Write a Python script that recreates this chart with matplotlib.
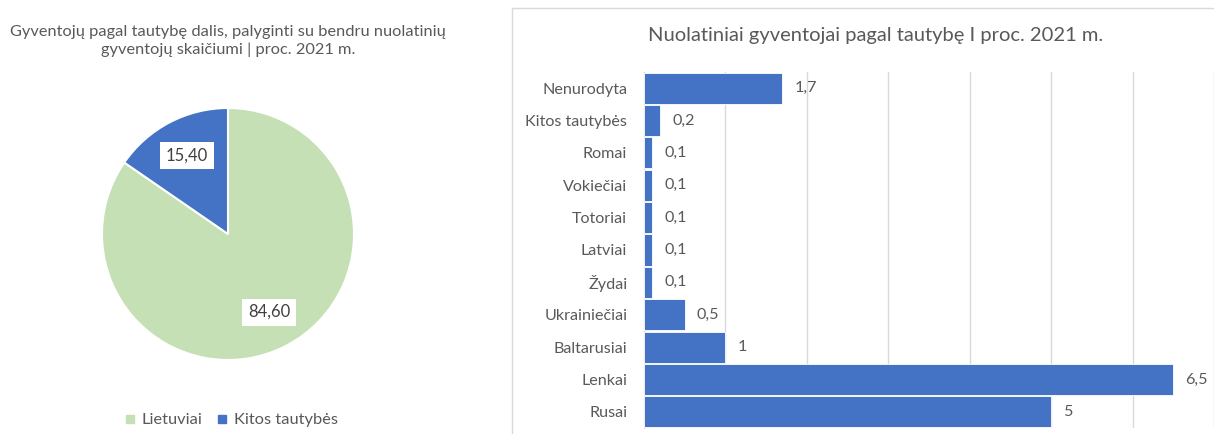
import matplotlib
matplotlib.use("Agg")
import matplotlib.pyplot as plt
from matplotlib.patches import Rectangle
from matplotlib.lines import Line2D
import numpy as np

# ---- data ----
pie_labels = ["Lietuviai", "Kitos tautybės"]
pie_values = [84.60, 15.40]
pie_title = "Gyventojų pagal tautybę dalis, palyginti su bendru nuolatinių\ngyventojų skaičiumi | proc. 2021 m."

bar_categories = ["Rusai", "Lenkai", "Baltarusiai", "Ukrainiečiai", "Žydai", "Latviai",
                  "Totoriai", "Vokiečiai", "Romai", "Kitos tautybės", "Nenurodyta"]
bar_values = [5, 6.5, 1, 0.5, 0.1, 0.1, 0.1, 0.1, 0.1, 0.2, 1.7]
bar_title = "Nuolatiniai gyventojai pagal tautybę I proc. 2021 m."

plt.rcParams['font.family'] = ['Lato', 'DejaVu Sans']

GREEN = "#C5E0B4"
BLUE = "#4472C4"
TXT = "#595959"
GRID = "#D9D9D9"

W, H = 1214, 434
fig = plt.figure(figsize=(W / 100, H / 100), dpi=100)
fig.patch.set_facecolor("white")

def fx(px):
    return px / W

def fy(py):
    return 1 - py / H

# ---- pie ----
cx, cy, r = 228, 234, 126
axp = fig.add_axes([fx(cx - r), fy(cy + r), 2 * r / W, 2 * r / H])
wedges, _ = axp.pie(pie_values, colors=[GREEN, BLUE], startangle=90, counterclock=False,
                    wedgeprops=dict(edgecolor="white", linewidth=1.5))
axp.set_aspect("auto")
axp.set_xlim(-1, 1)
axp.set_ylim(-1, 1)
cum = 0
for v in pie_values:
    mid = 90 - (cum + v / 2) / sum(pie_values) * 360
    cum += v
    rr = 0.70
    axp.text(rr * np.cos(np.radians(mid)), rr * np.sin(np.radians(mid)),
             f"{v:.2f}".replace(".", ","), ha="center", va="center", fontsize=12, color="#404040",
             bbox=dict(facecolor="white", edgecolor="none", pad=4))

fig.text(fx(228), fy(41), pie_title, ha="center", va="center", fontsize=11.8, color=TXT,
         linespacing=1.35)

# legend
handles = [Line2D([], [], marker="s", linestyle="none", markersize=5.5, color=c) for c in [GREEN, BLUE]]
fig.legend(handles, pie_labels, loc="center", bbox_to_anchor=(fx(229), fy(420)), ncol=2,
           frameon=False, fontsize=11.8, labelcolor=TXT, handletextpad=0.1, columnspacing=0.6,
           handlelength=1.2)

# ---- bar chart frame ----
fig.patches.append(Rectangle((fx(512), fy(440)), fx(720), fy(8) - fy(440), transform=fig.transFigure,
                             facecolor="none", edgecolor=GRID, linewidth=1))

left, right = 644, 1214
top, bottom = 72, 428
unit = 82.2
axb = fig.add_axes([fx(left), fy(bottom), (right - left) / W, (bottom - top) / H])
y = np.arange(len(bar_categories))
bars = axb.barh(y, bar_values, height=0.96, color=BLUE, edgecolor="white", linewidth=0.6, zorder=3)
axb.set_xlim(0, (right - left) / unit)
axb.set_ylim(-0.5, len(bar_categories) - 0.5)
axb.set_yticks(y)
axb.set_yticklabels(bar_categories, fontsize=11.6, color=TXT)
axb.tick_params(axis="y", length=0, pad=12)
axb.set_xticks(np.arange(0, 8))
axb.tick_params(axis="x", bottom=False, labelbottom=False)
axb.grid(axis="x", color=GRID, linewidth=1, zorder=0)
for s in ["top", "right", "bottom"]:
    axb.spines[s].set_visible(False)
axb.spines["left"].set_color(GRID)
for b, v in zip(bars, bar_values):
    lab = (f"{v:g}").replace(".", ",")
    axb.text(v + 0.15, b.get_y() + b.get_height() / 2, lab, va="center", ha="left",
             fontsize=11.6, color=TXT, zorder=4)

fig.text(fx(876), fy(36), bar_title, ha="center", va="center", fontsize=14.5, color=TXT)

fig.savefig("out.png", dpi=100)
